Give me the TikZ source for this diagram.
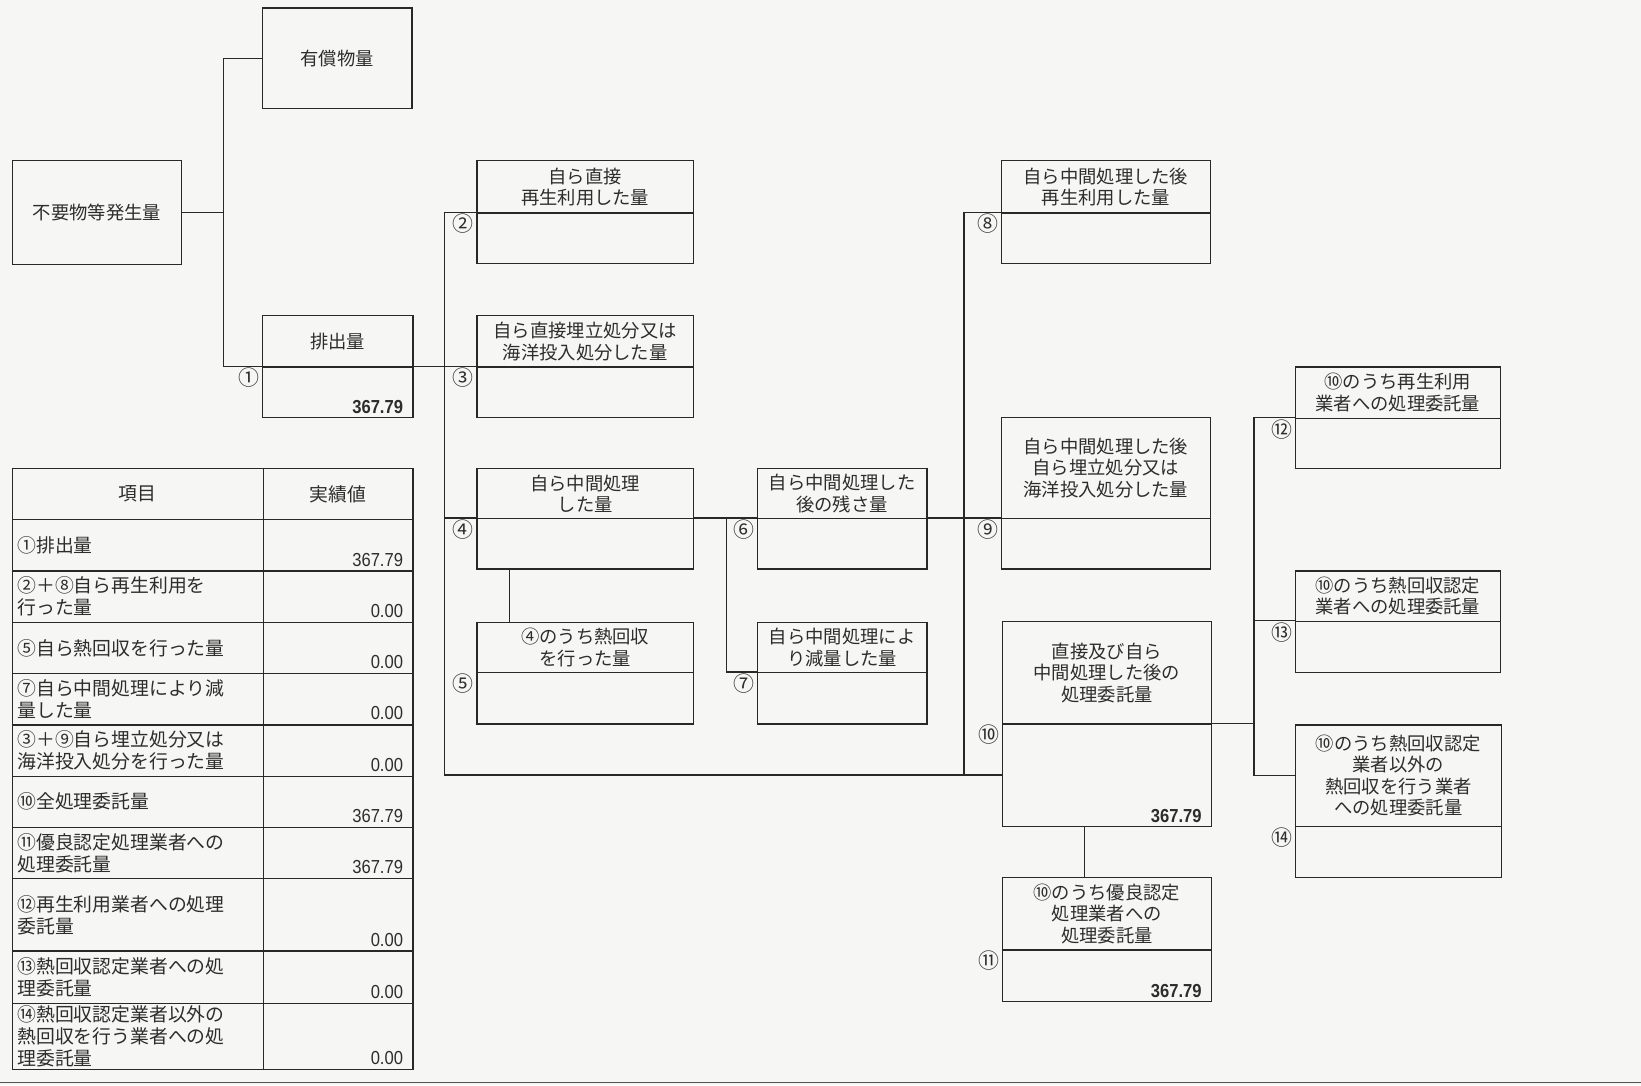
\documentclass[tikz,border=0pt]{standalone}
\usepackage{fontspec}
\setmainfont{Noto Sans CJK JP}
\newfontfamily\numfont[FakeStretch=0.88]{Liberation Sans}
\definecolor{bgc}{RGB}{246,246,244}
\definecolor{ln}{RGB}{40,40,40}
\definecolor{txt}{RGB}{45,45,45}
\newcommand\twobox[8]{%
  \node[hdr, minimum width={(#3-#2)*1pt}, minimum height={(#5-#4)*1pt}, anchor=north west] (#1h) at (#2,#4) {#7};
  \node[cell, minimum width={(#3-#2)*1pt}, minimum height={(#6-#5)*1pt}, anchor=north west] (#1v) at (#2,#5) {};
  \node[circ, anchor=east] (#1n) at ([xshift=-2pt,yshift=-11pt]#1v.north west) {#8};
}
\newcommand\trow[5]{%
  \node[tcell, text width=230pt, inner xsep=5pt, minimum height={(#3-#2)*1pt}, anchor=north west] (#1l) at (11,#2) {#4};
  \node[cell, minimum width=143pt, minimum height={(#3-#2)*1pt}, anchor=north west] (#1r) at (251,#2) {};
  \node[valt, anchor=south east] (#1v) at ([xshift=-10pt,yshift=5pt]#1r.south east) {#5};
}
\begin{document}
\begin{tikzpicture}[x=1pt,y=-1pt,
  every node/.style={text=txt},
  cell/.style={draw=ln, line width=1.3pt, inner sep=0pt},
  hdr/.style={cell, align=center, font=\fontsize{17.5}{20.5}\selectfont},
  circ/.style={inner sep=0pt, font=\fontsize{20}{20}\selectfont},
  valb/.style={inner sep=0pt, font=\numfont\bfseries\fontsize{18}{18}\selectfont},
  valt/.style={inner sep=0pt, font=\numfont\fontsize{18}{18}\selectfont},
  conn/.style={draw=ln, line width=1.3pt},
  tcell/.style={cell, align=left, font=\fontsize{18}{21}\selectfont},
  thcell/.style={cell, align=center, font=\fontsize{18}{21}\selectfont},
]
\fill[bgc] (0,0) rectangle (1568,1037);
\useasboundingbox (0,0) rectangle (1568,1037);

% single boxes
\node[hdr, minimum width=143pt, minimum height=96pt, anchor=north west] (yusho) at (250,7) {有償物量};
\node[hdr, minimum width=162pt, minimum height=99pt, anchor=north west] (gen) at (11,153) {不要物等発生量};

% two-part boxes
\twobox{b1}{250}{394}{301}{350}{398}{排出量}{①}
\twobox{b2}{455}{662}{153}{203}{251}{自ら直接\\再生利用した量}{②}
\twobox{b3}{455}{662}{301}{350}{398}{自ら直接埋立処分又は\\海洋投入処分した量}{③}
\twobox{b4}{455}{662}{447}{495}{543}{自ら中間処理\\した量}{④}
\twobox{b5}{455}{662}{594}{642}{691}{④のうち熱回収\\を行った量}{⑤}
\twobox{b6}{723}{885}{447}{495}{543}{自ら中間処理した\\後の残さ量}{⑥}
\twobox{b7}{723}{885}{594}{642}{691}{自ら中間処理によ\\り減量した量}{⑦}
\twobox{b8}{956}{1156}{153}{203}{251}{自ら中間処理した後\\再生利用した量}{⑧}
\twobox{b9}{956}{1156}{398}{495}{543}{自ら中間処理した後\\自ら埋立処分又は\\海洋投入処分した量}{⑨}
\twobox{b10}{957}{1157}{593}{691}{789}{直接及び自ら\\中間処理した後の\\処理委託量}{⑩}
\twobox{b11}{957}{1157}{838}{907}{956}{⑩のうち優良認定\\処理業者への\\処理委託量}{⑪}
\twobox{b12}{1237}{1433}{350}{399}{447}{⑩のうち再生利用\\業者への処理委託量}{⑫}
\twobox{b13}{1237}{1433}{545}{593}{642}{⑩のうち熱回収認定\\業者への処理委託量}{⑬}
\twobox{b14}{1237}{1434}{692}{789}{838}{⑩のうち熱回収認定\\業者以外の\\熱回収を行う業者\\への処理委託量}{⑭}

\node[valb, anchor=south east] (b1val) at ([xshift=-10pt,yshift=4pt]b1v.south east) {367.79};
\node[valb, anchor=south east] (b10val) at ([xshift=-10pt,yshift=4pt]b10v.south east) {367.79};
\node[valb, anchor=south east] (b11val) at ([xshift=-10pt,yshift=4pt]b11v.south east) {367.79};

% connector junctions
\coordinate (j1) at ([xshift=39pt]gen.east);
\coordinate (x425) at (425,0);
\coordinate (x921) at (921,0);
\coordinate (trunkL) at (b10v.west -| x425);
\coordinate (trunkR) at (b10v.west -| x921);
\coordinate (j67) at ([xshift=31pt]b6v.north west -| b4v.north east);
\coordinate (j10) at ([xshift=40pt]b10v.north east);

\draw[conn] (gen.east) -- (j1);
\draw[conn] (yusho.west) -| (j1) |- (b1v.north west);
\draw[conn] (b1v.north east) -- (b3v.north west);
\draw[conn] (b2v.north west) -| (trunkL) -- (b10v.west);
\draw[conn] (trunkL |- b4v.north west) -- (b4v.north west);
\draw[conn] (b4v.north east) -- (b6v.north west);
\draw[conn] (b6v.north east) -- (b9v.north west);
\draw[conn] ([xshift=32pt]b4v.south west) -- ([xshift=32pt]b5h.north west);
\draw[conn] (j67) |- (b7v.north west);
\draw[conn] (b8v.north west) -| (trunkR);
\draw[conn] (b10v.north east) -- (j10);
\draw[conn] (b12v.north west) -| (b14h.west -| j10) -- (b14h.west);
\draw[conn] (b13v.north west) -- (b13v.north west -| j10);
\draw[conn] ([xshift=79pt]b10v.south west) -- ([xshift=79pt]b11h.north west);

% table
\node[thcell, minimum width=240pt, minimum height=49pt, anchor=north west] (thl) at (11,447) {項目};
\node[thcell, minimum width=143pt, minimum height=49pt, anchor=north west] (thr) at (251,447) {実績値};
\trow{r1}{496}{545}{①排出量}{367.79}
\trow{r2}{545}{594}{②＋⑧自ら再生利用を\\行った量}{0.00}
\trow{r3}{594}{643}{⑤自ら熱回収を行った量}{0.00}
\trow{r4}{643}{692}{⑦自ら中間処理により減\\量した量}{0.00}
\trow{r5}{692}{741}{③＋⑨自ら埋立処分又は\\海洋投入処分を行った量}{0.00}
\trow{r6}{741}{790}{⑩全処理委託量}{367.79}
\trow{r7}{790}{839}{⑪優良認定処理業者への\\処理委託量}{367.79}
\trow{r8}{839}{908}{⑫再生利用業者への処理\\委託量}{0.00}
\trow{r9}{908}{958}{⑬熱回収認定業者への処\\理委託量}{0.00}
\trow{r10}{958}{1021}{⑭熱回収認定業者以外の\\熱回収を行う業者への処\\理委託量}{0.00}

% page edge line
\draw[draw=ln!80, line width=1.5pt] (0,1034.5) -- (1568,1034.5);
\end{tikzpicture}
\end{document}
